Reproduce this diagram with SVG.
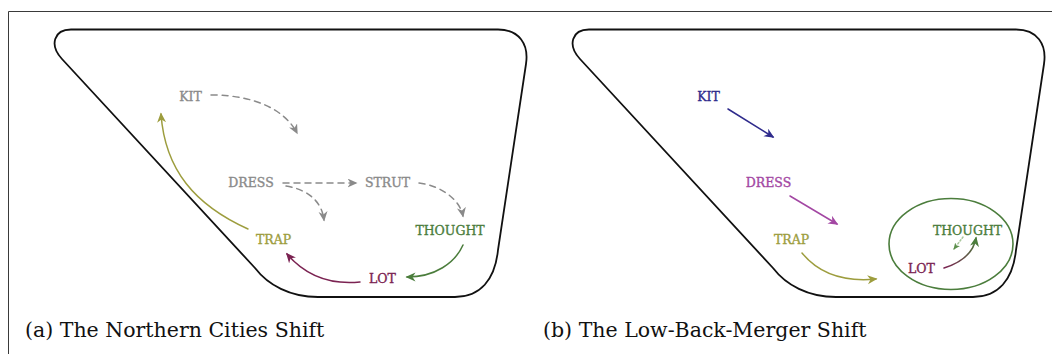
<svg xmlns="http://www.w3.org/2000/svg" width="1052" height="354" viewBox="0 0 1052 354">
<style>
.frame{fill:none;stroke:#3a3a3a;stroke-width:1}
.hull{fill:none;stroke:#111;stroke-width:1.8;stroke-linejoin:round}
.lbl{font-family:"DejaVu Serif","Liberation Serif",serif;font-size:12.5px;text-anchor:middle;stroke-width:0.35}
.cap{font-family:"DejaVu Serif","Liberation Serif",serif;font-size:20.5px;fill:#111}
.gray{fill:#8a8a8a;stroke:#8a8a8a}.olive{fill:#9d9d3e;stroke:#9d9d3e}.green{fill:#4b7d3c;stroke:#4b7d3c}.maroon{fill:#7b2352;stroke:#7b2352}.blue{fill:#2f2b8c;stroke:#2f2b8c}.purple{fill:#a347a3;stroke:#a347a3}
.e{fill:none;stroke-width:1.5;stroke-linecap:round}
.dash{stroke:#8a8a8a;stroke-dasharray:6 5}
</style>
<defs>
<marker id="mg" markerUnits="userSpaceOnUse" markerWidth="12" markerHeight="10" refX="8.5" refY="4.5" orient="auto"><path d="M0,0 L10,4.5 L0,9 L3,4.5 Z" fill="#8a8a8a"/></marker>
<marker id="mo" markerUnits="userSpaceOnUse" markerWidth="12" markerHeight="10" refX="8.5" refY="4.5" orient="auto"><path d="M0,0 L10,4.5 L0,9 L3,4.5 Z" fill="#9d9d3e"/></marker>
<marker id="mgr" markerUnits="userSpaceOnUse" markerWidth="12" markerHeight="10" refX="8.5" refY="4.5" orient="auto"><path d="M0,0 L10,4.5 L0,9 L3,4.5 Z" fill="#4b7d3c"/></marker>
<marker id="mm" markerUnits="userSpaceOnUse" markerWidth="12" markerHeight="10" refX="8.5" refY="4.5" orient="auto"><path d="M0,0 L10,4.5 L0,9 L3,4.5 Z" fill="#7b2352"/></marker>
<marker id="mb" markerUnits="userSpaceOnUse" markerWidth="12" markerHeight="10" refX="8.5" refY="4.5" orient="auto"><path d="M0,0 L10,4.5 L0,9 L3,4.5 Z" fill="#2f2b8c"/></marker>
<marker id="mp" markerUnits="userSpaceOnUse" markerWidth="12" markerHeight="10" refX="8.5" refY="4.5" orient="auto"><path d="M0,0 L10,4.5 L0,9 L3,4.5 Z" fill="#a347a3"/></marker>
<marker id="mlg" markerUnits="userSpaceOnUse" markerWidth="10" markerHeight="8" refX="6" refY="3" orient="auto"><path d="M0,0 L7,3 L0,6 L2,3 Z" fill="#5c8f4c"/></marker>
<linearGradient id="lotg" gradientUnits="userSpaceOnUse" x1="944" y1="268" x2="976" y2="238"><stop offset="0" stop-color="#7b2352"/><stop offset="1" stop-color="#4b7d3c"/></linearGradient>
</defs>

<g id="frame">
<line class="frame" x1="8.5" y1="11.5" x2="1052" y2="11.5"/>
<line class="frame" x1="8.5" y1="11.5" x2="8.5" y2="354"/>
</g>

<g id="panel-a">
<path id="hull-a" class="hull" d="M71,29.5 L498,29.5 C519,29.5 529,44 526,64 L498,250 C495,280 480,297 455,297 L318,297 C290,297 268,285 255,268 L62,59 C49,45 54,29.5 71,29.5 Z"/>
<g id="connectors-a">
<path class="e dash" d="M211,95 C255,95 285,110 297,133" marker-end="url(#mg)"/>
<path class="e dash" d="M283,183 L356,183" marker-end="url(#mg)"/>
<path class="e dash" d="M286,186 C310,190 322,203 324,220" marker-end="url(#mg)"/>
<path class="e dash" d="M419,183 C442,186 460,200 463,216" marker-end="url(#mg)"/>
<path class="e" stroke="#9d9d3e" d="M248,229 C195,205 165,170 161,114" marker-end="url(#mo)"/>
<path class="e" stroke="#7b2352" d="M360,282 C330,285 305,275 287,254" marker-end="url(#mm)"/>
<path class="e" stroke="#4b7d3c" d="M463,245 C455,263 435,277 407,277" marker-end="url(#mgr)"/>
</g>
<g id="a-kit"><text class="lbl gray" x="190.5" y="101">KIT</text></g>
<g id="a-dress"><text class="lbl gray" x="251" y="187">DRESS</text></g>
<g id="a-strut"><text class="lbl gray" x="387.5" y="187">STRUT</text></g>
<g id="a-thought"><text class="lbl green" x="450" y="235">THOUGHT</text></g>
<g id="a-trap"><text class="lbl olive" x="273.5" y="244">TRAP</text></g>
<g id="a-lot"><text class="lbl maroon" x="382.5" y="283">LOT</text></g>
<g id="a-caption"><text class="cap" x="25" y="337">(a) The Northern Cities Shift</text></g>
</g>

<g id="panel-b">
<path id="hull-b" class="hull" transform="translate(518,0)" d="M71,29.5 L498,29.5 C519,29.5 529,44 526,64 L498,250 C495,280 480,297 455,297 L318,297 C290,297 268,285 255,268 L62,59 C49,45 54,29.5 71,29.5 Z"/>
<g id="b-merger"><ellipse cx="951" cy="244" rx="62" ry="45.5" fill="none" stroke="#4b7d3c" stroke-width="1.6"/></g>
<g id="connectors-b">
<path class="e" stroke="#2f2b8c" d="M728,109 L773,137" marker-end="url(#mb)"/>
<path class="e" stroke="#a347a3" d="M790,196 L837,224" marker-end="url(#mp)"/>
<path class="e" stroke="#9d9d3e" d="M802,253 C820,275 845,282 876,279" marker-end="url(#mo)"/>
<path class="e" stroke="url(#lotg)" d="M944,268 C960,263 973,255 976,238" marker-end="url(#mgr)"/>
<path class="e" stroke="#a9c79c" stroke-width="1.2" stroke-dasharray="1.5 2" d="M963,237 L954,249" marker-end="url(#mlg)"/>
</g>
<g id="b-kit"><text class="lbl blue" x="708.5" y="101">KIT</text></g>
<g id="b-dress"><text class="lbl purple" x="768.5" y="187">DRESS</text></g>
<g id="b-trap"><text class="lbl olive" x="791.5" y="244">TRAP</text></g>
<g id="b-thought"><text class="lbl green" x="967.5" y="235">THOUGHT</text></g>
<g id="b-lot"><text class="lbl maroon" x="921.5" y="273">LOT</text></g>
<g id="b-caption"><text class="cap" x="543" y="337">(b) The Low-Back-Merger Shift</text></g>
</g>
</svg>
